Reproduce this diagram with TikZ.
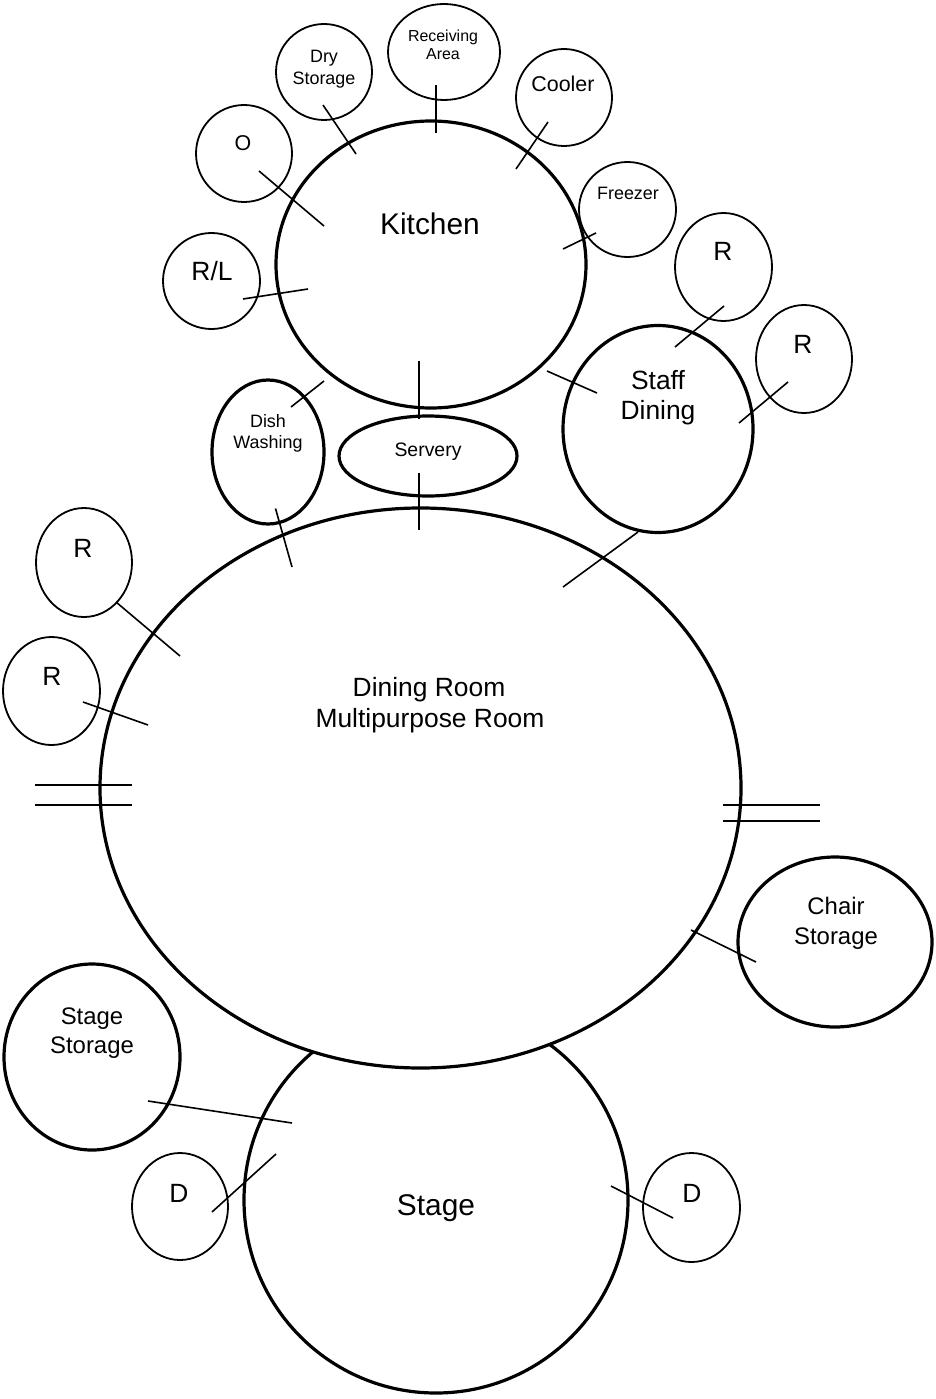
\documentclass[tikz,border=0pt]{standalone}
\usepackage{fontspec}
\setmainfont{Liberation Sans}
\usetikzlibrary{shapes.geometric}
\tikzset{
  room/.style={draw, ellipse, line width=3.2bp, inner sep=0pt, outer sep=0pt, fill=white},
  space/.style={draw, ellipse, line width=1.8bp, inner sep=0pt, outer sep=0pt},
  link/.style={line width=1.6bp},
  lbl/.style={anchor=base, inner sep=0pt, outer sep=0pt},
  fA/.style={font=\fontsize{30}{34}\selectfont},
  fB/.style={font=\fontsize{26.5}{30}\selectfont},
  fC/.style={font=\fontsize{24}{28}\selectfont},
  fD/.style={font=\fontsize{21.5}{25}\selectfont},
  fE/.style={font=\fontsize{19.5}{23}\selectfont},
  fF/.style={font=\fontsize{18}{21}\selectfont},
  fG/.style={font=\fontsize{16}{18}\selectfont},
}
\begin{document}
\begin{tikzpicture}[x=1bp,y=-1bp]
\useasboundingbox (0,0) rectangle (935,1399);

% ---- rooms (stage first, so the dining room covers its top arc) ----
\node[room, minimum width=384bp, minimum height=386bp] (stage) at (436,1200) {};
\node[room, minimum width=641bp, minimum height=560bp] (dining) at (420.5,788) {};
\node[room, minimum width=310bp, minimum height=287bp] (kitchen) at (431,264.5) {};
\node[room, minimum width=190bp, minimum height=207bp] (staff) at (658,429) {};
\node[room, minimum width=112bp, minimum height=144bp] (dish) at (268,452) {};
\node[room, minimum width=178bp, minimum height=80bp] (servery) at (428,456) {};
\node[room, minimum width=194bp, minimum height=170bp] (chair) at (835,942) {};
\node[room, minimum width=176bp, minimum height=186bp] (stagestore) at (92,1057) {};

% ---- small spaces ----
\node[space, minimum width=96bp, minimum height=96bp] (dry) at (324,72) {};
\node[space, minimum width=112bp, minimum height=96bp] (recv) at (444,52) {};
\node[space, minimum width=96bp, minimum height=97bp] (cooler) at (564,97.5) {};
\node[space, minimum width=96bp, minimum height=97bp] (office) at (244,153.5) {};
\node[space, minimum width=97bp, minimum height=95bp] (freezer) at (627.5,209.5) {};
\node[space, minimum width=97bp, minimum height=96bp] (rl) at (211.5,281) {};
\node[space, minimum width=97bp, minimum height=108bp] (rA) at (723.5,267) {};
\node[space, minimum width=96bp, minimum height=108bp] (rB) at (804,359) {};
\node[space, minimum width=96bp, minimum height=109bp] (rC) at (84,562.5) {};
\node[space, minimum width=97bp, minimum height=108bp] (rD) at (51.5,691) {};
\node[space, minimum width=96bp, minimum height=107bp] (dA) at (180,1206.5) {};
\node[space, minimum width=97bp, minimum height=109bp] (dB) at (691.5,1207.5) {};

% ---- labels ----
\node[lbl, fA] (tkitchen) at (430,235) {Kitchen};
\node[lbl, fA] (tstage) at (436,1215) {Stage};
\node[lbl, fB] (tdin1) at (429,696) {Dining Room};
\node[lbl, fB] (tdin2) at (430,727) {Multipurpose Room};
\node[lbl, fB] (tstaff1) at (658,389) {Staff};
\node[lbl, fB] (tstaff2) at (658,419) {Dining};
\node[lbl, fC] (tchair1) at (836,914) {Chair};
\node[lbl, fC] (tchair2) at (836,944) {Storage};
\node[lbl, fC] (tss1) at (92,1024) {Stage};
\node[lbl, fC] (tss2) at (92,1053) {Storage};
\node[lbl, fE] (tserv) at (428,456) {Servery};
\node[lbl, fF] (tdish1) at (268,427.7) {Dish};
\node[lbl, fF] (tdish2) at (268,448.3) {Washing};
\node[lbl, fF] (tdry1) at (324,63) {Dry};
\node[lbl, fF] (tdry2) at (324,85) {Storage};
\node[lbl, fG] (trecv1) at (443,41.7) {Receiving};
\node[lbl, fG] (trecv2) at (443,59.3) {Area};
\node[lbl, fD] (tcool) at (563,91.5) {Cooler};
\node[lbl, fD] (toff) at (243,151) {O};
\node[lbl, fF] (tfrz) at (628,200) {Freezer};
\node[lbl, fB] (trl) at (212,280) {R/L};
\node[lbl, fB] (trA) at (723,261) {R};
\node[lbl, fB] (trB) at (803,353) {R};
\node[lbl, fB] (trC) at (83,557) {R};
\node[lbl, fB] (trD) at (52,685) {R};
\node[lbl, fB] (tdA) at (179,1202) {D};
\node[lbl, fB] (tdB) at (692,1202) {D};

% ---- connector ends ----
\coordinate (dry1) at (323,105);   \coordinate (dry2) at (356,154);
\coordinate (recv1) at (436,85);   \coordinate (recv2) at (436,133);
\coordinate (cool1) at (548,122);  \coordinate (cool2) at (516,169);
\coordinate (off1) at (259,171);   \coordinate (off2) at (324,226);
\coordinate (frz1) at (596,233);   \coordinate (frz2) at (563,249);
\coordinate (rl1) at (243,299);    \coordinate (rl2) at (308,289);
\coordinate (ks1) at (419,361);    \coordinate (ks2) at (419,419);
\coordinate (sd1) at (419,473);    \coordinate (sd2) at (419,530);
\coordinate (dk1) at (291,407);    \coordinate (dk2) at (324,381);
\coordinate (dd1) at (275.5,508.5);\coordinate (dd2) at (292,567);
\coordinate (kst1) at (547,371);   \coordinate (kst2) at (597,393);
\coordinate (rA1) at (724,306);    \coordinate (rA2) at (675,347);
\coordinate (rB1) at (788,382);    \coordinate (rB2) at (739,423);
\coordinate (std1) at (638,532);   \coordinate (std2) at (563,587);
\coordinate (rC1) at (116,602);    \coordinate (rC2) at (180,656);
\coordinate (rD1) at (83,702);     \coordinate (rD2) at (148,725);
\coordinate (wl1) at (35,785);     \coordinate (wl2) at (132,785);
\coordinate (wl3) at (35,805);     \coordinate (wl4) at (132,805);
\coordinate (wr1) at (723,805);    \coordinate (wr2) at (820,805);
\coordinate (wr3) at (723,821);    \coordinate (wr4) at (820,821);
\coordinate (ch1) at (691,930);    \coordinate (ch2) at (756,962);
\coordinate (ss1) at (148,1101);   \coordinate (ss2) at (292,1123);
\coordinate (dA1) at (212,1212);   \coordinate (dA2) at (276,1154);
\coordinate (dB1) at (611,1186);   \coordinate (dB2) at (673,1218);

% ---- connectors ----
\draw[link] (dry1) -- (dry2);
\draw[link] (recv1) -- (recv2);
\draw[link] (cool1) -- (cool2);
\draw[link] (off1) -- (off2);
\draw[link] (frz1) -- (frz2);
\draw[link] (rl1) -- (rl2);
\draw[link] (ks1) -- (ks2);
\draw[link] (sd1) -- (sd2);
\draw[link] (dk1) -- (dk2);
\draw[link] (dd1) -- (dd2);
\draw[link] (kst1) -- (kst2);
\draw[link] (rA1) -- (rA2);
\draw[link] (rB1) -- (rB2);
\draw[link] (std1) -- (std2);
\draw[link] (rC1) -- (rC2);
\draw[link] (rD1) -- (rD2);
\draw[link] (wl1) -- (wl2);
\draw[link] (wl3) -- (wl4);
\draw[link] (wr1) -- (wr2);
\draw[link] (wr3) -- (wr4);
\draw[link] (ch1) -- (ch2);
\draw[link] (ss1) -- (ss2);
\draw[link] (dA1) -- (dA2);
\draw[link] (dB1) -- (dB2);
\end{tikzpicture}
\end{document}
